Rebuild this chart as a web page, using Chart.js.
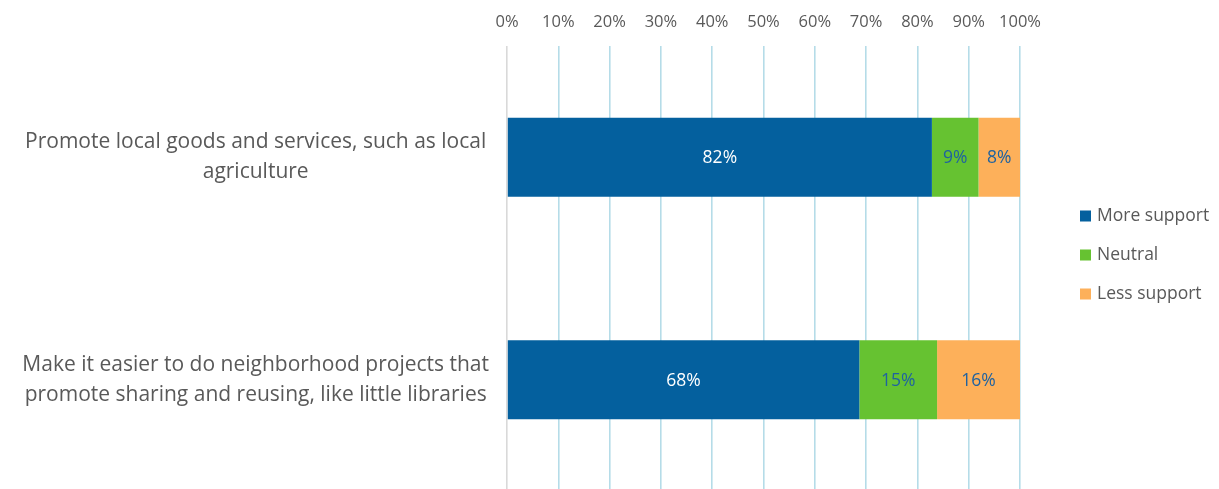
<!DOCTYPE html>
<html><head><meta charset="utf-8">
<script src="https://cdn.jsdelivr.net/npm/chart.js@4"></script>
<style>html,body{margin:0;padding:0;background:#fff;overflow:hidden}#wrap{width:1219px;height:491px;position:relative}</style>
</head><body><div id="wrap"><canvas id="c"></canvas></div>
<script>
const categories = [
  ["Promote local goods and services, such as local", "agriculture"],
  ["Make it easier to do neighborhood projects that", "promote sharing and reusing, like little libraries"]
];
const seriesNames = ["More support", "Neutral", "Less support"];
const moreSupport = [82, 68];
const neutral = [9, 15];
const lessSupport = [8, 16];
const tickValues = [0, 10, 20, 30, 40, 50, 60, 70, 80, 90, 100];

const seriesColors = ["#04609E", "#66C231", "#FDB05A"];
const labelColors = ["#FFFFFF", "#1F62A0", "#1F62A0"];
const textColor = "#595959";
const FONT = "'Open Sans', Lato, sans-serif";

const raw = [moreSupport, neutral, lessSupport];
const totals = categories.map((_, i) => raw.reduce((s, arr) => s + arr[i], 0));

const datasets = raw.map((arr, k) => ({
  label: seriesNames[k],
  data: arr.map((v, i) => v / totals[i] * 100),
  rawValues: arr,
  backgroundColor: seriesColors[k],
  borderWidth: 0,
  categoryPercentage: 1,
  barPercentage: 0.356
}));

const valueLabels = {
  id: 'valueLabels',
  afterDatasetsDraw(chart) {
    const ctx = chart.ctx;
    ctx.save();
    ctx.font = "17.5px " + FONT;
    ctx.textAlign = 'center';
    ctx.textBaseline = 'middle';
    chart.data.datasets.forEach((ds, k) => {
      const meta = chart.getDatasetMeta(k);
      meta.data.forEach((el, i) => {
        ctx.fillStyle = labelColors[k];
        ctx.fillText(ds.rawValues[i] + '%', (el.x + el.base) / 2, el.y + 1);
      });
    });
    ctx.restore();
  }
};

const sideLegend = {
  id: 'sideLegend',
  afterDraw(chart) {
    const ctx = chart.ctx;
    const a = chart.chartArea;
    ctx.save();
    ctx.font = "17.5px " + FONT;
    ctx.textBaseline = 'middle';
    ctx.textAlign = 'left';
    chart.data.datasets.forEach((ds, k) => {
      const y = a.top + 170 + k * 39;
      const x = a.right + 60;
      ctx.fillStyle = ds.backgroundColor;
      ctx.fillRect(x, y - 5.5, 11, 11);
      ctx.fillStyle = textColor;
      ctx.fillText(ds.label, x + 17, y);
    });
    ctx.restore();
  }
};

new Chart(document.getElementById('c'), {
  type: 'bar',
  data: { labels: categories, datasets },
  plugins: [valueLabels, sideLegend],
  options: {
    indexAxis: 'y',
    responsive: true,
    maintainAspectRatio: false,
    animation: false,
    layout: { padding: { left: 0, right: 199, top: 0, bottom: 0 } },
    plugins: { legend: { display: false }, tooltip: { enabled: false } },
    scales: {
      x: {
        position: 'top',
        stacked: true,
        min: 0, max: 100,
        afterBuildTicks(scale) { scale.ticks = tickValues.map(v => ({ value: v })); },
        afterFit(scale) { scale.height = 46; },
        ticks: {
          callback: v => v + '%',
          color: textColor,
          font: { family: FONT, size: 16.5 },
          padding: 14,
          maxRotation: 0
        },
        grid: {
          drawTicks: false,
          color: c => c.index === 0 ? '#D9D9D9' : '#B5DCE8',
          lineWidth: 1.6
        },
        border: { display: false }
      },
      y: {
        stacked: true,
        afterFit(scale) { scale.width = 507; scale.paddingTop = 0; scale.paddingBottom = 0; },
        ticks: {
          color: textColor,
          font: { family: FONT, size: 21, lineHeight: 1.45 },
          crossAlign: 'center',
          padding: 10
        },
        grid: { display: false },
        border: { display: false }
      }
    }
  }
});
</script>
</body></html>
